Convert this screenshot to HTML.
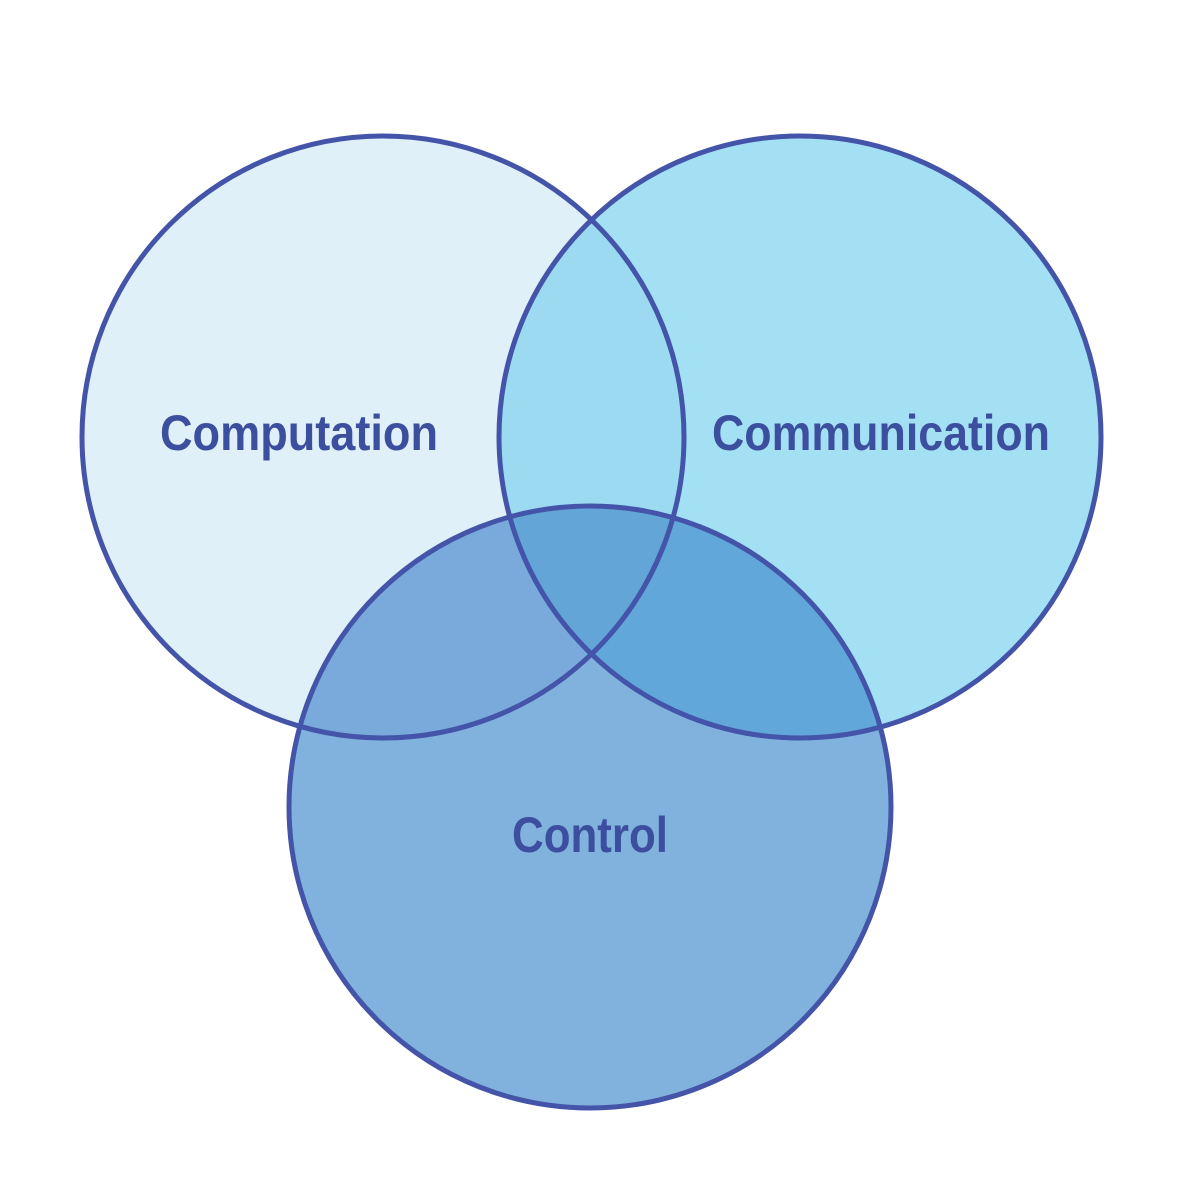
<!DOCTYPE html>
<html><head><meta charset="utf-8"><style>
html,body{margin:0;padding:0;background:#fff;}
svg{display:block;}
text{font-family:"Liberation Sans Narrow","Liberation Sans",sans-serif;font-weight:bold;fill:#3c4f9e;}
</style></head><body>
<svg width="1200" height="1200" viewBox="0 0 1200 1200">
<defs>
<clipPath id="c1"><circle cx="383" cy="437" r="301"/></clipPath>
<clipPath id="c2"><circle cx="800" cy="437" r="301"/></clipPath>
<clipPath id="c3"><circle cx="590" cy="807" r="301"/></clipPath>
</defs>
<circle cx="383" cy="437" r="301" fill="#dff0f8"/>
<circle cx="800" cy="437" r="301" fill="#a3e0f4"/>
<circle cx="590" cy="807" r="301" fill="#81b2dd"/>
<g clip-path="url(#c1)"><circle cx="800" cy="437" r="301" fill="#9cdaf2"/><circle cx="590" cy="807" r="301" fill="#79aadb"/></g>
<g clip-path="url(#c2)"><circle cx="590" cy="807" r="301" fill="#62a7d9"/></g>
<g clip-path="url(#c1)"><g clip-path="url(#c2)"><circle cx="590" cy="807" r="301" fill="#62a5d6"/></g></g>
<g fill="none" stroke="#4354a9" stroke-width="5">
<circle cx="383" cy="437" r="301"/>
<circle cx="800" cy="437" r="301"/>
<circle cx="590" cy="807" r="301"/>
</g>
<text x="160" y="450" font-size="50" textLength="278" lengthAdjust="spacingAndGlyphs">Computation</text>
<text x="712" y="450" font-size="50" textLength="338" lengthAdjust="spacingAndGlyphs">Communication</text>
<text x="512" y="852" font-size="50" textLength="156" lengthAdjust="spacingAndGlyphs">Control</text>
</svg>
</body></html>
